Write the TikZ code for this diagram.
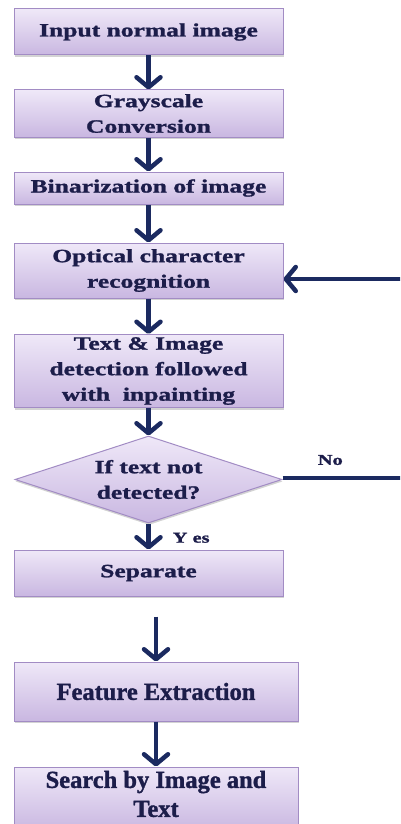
\documentclass[tikz,border=0pt]{standalone}
\usepackage{fontspec}
\setmainfont[FakeStretch=1.36,FakeBold=1.3]{Liberation Serif}
\newfontfamily\plainserif[FakeBold=1.3]{Liberation Serif}
\usetikzlibrary{arrows.meta,shapes.geometric,shadows}

\definecolor{boxtop}{HTML}{EFE8F8}
\definecolor{boxbot}{HTML}{C9B7E1}
\definecolor{boxedge}{HTML}{A28CC4}
\definecolor{ink}{HTML}{1C1D4A}
\definecolor{arrowc}{HTML}{1B2A60}

\tikzset{
  x=1pt, y=-1pt,
  flowbox/.style={rectangle, draw=boxedge, line width=1pt,
    top color=boxtop, bottom color=boxbot, inner sep=0pt,
    minimum width=269pt, text=ink, align=center,
    font=\fontsize{18.8}{25.5}\selectfont\bfseries,
    drop shadow={shadow xshift=0.5pt, shadow yshift=-2pt, opacity=0.35}},
  widebox/.style={flowbox, minimum width=284pt,
    font=\plainserif\fontsize{24.5}{29}\selectfont\bfseries},
  decision/.style={diamond, draw=boxedge, line width=1pt,
    top color=boxtop, bottom color=boxbot, inner sep=0pt,
    minimum width=267pt, minimum height=87pt,
    drop shadow={shadow xshift=0.5pt, shadow yshift=-2pt, opacity=0.35}},
  lbl/.style={text=ink, align=center, inner sep=0pt,
    font=\fontsize{18.8}{25.5}\selectfont\bfseries},
  smalllbl/.style={text=ink, inner sep=0pt,
    font=\fontsize{15}{18}\selectfont\bfseries},
  flow/.style={draw=arrowc, line width=4.5pt,
    -{Straight Barb[length=10pt,width=24pt,round]}},
  plainline/.style={draw=arrowc, line width=4pt}
}

\begin{document}
\begin{tikzpicture}
\useasboundingbox (0,0) rectangle (400,824);
\clip (0,0) rectangle (400,824);

% process steps
\node[flowbox, minimum height=46pt] (input) at (148.5,32) {Input normal image};
\node[flowbox, minimum height=47pt] (gray) at (148.5,113.5) {Grayscale\\Conversion};
\node[flowbox, minimum height=32pt] (bin) at (148.5,188) {Binarization of image};
\node[flowbox, minimum height=55pt] (ocr) at (148.5,270.5) {Optical character\\recognition};
\node[flowbox, minimum height=73pt] (detect) at (148.5,371) {Text \& Image\\detection followed\\with\ \ inpainting};

% decision
\node[decision] (dec) at (148.5,479.5) {};
\node[lbl] (dectext) at (dec.center) {If text not\\detected?};

\node[flowbox, minimum height=46pt] (sep) at (148.5,573) {Separate};
\node[widebox, minimum height=59pt] (feat) at (156,691.5) {Feature Extraction};
\node[widebox, minimum height=64pt] (search) at (156,799) {};
\node[text=ink, align=center, inner sep=0pt,
  font=\plainserif\fontsize{24.5}{29}\selectfont\bfseries]
  (searchtext) at (156,794) {Search by Image and\\Text};

% loop-back ends (run off the right edge)
\coordinate (noEnd) at (402,478);
\coordinate (ocrIn) at (402,279);

% connectors
\draw[flow] (input.south) -- (gray.north);
\draw[flow] (gray.south) -- (bin.north);
\draw[flow] (bin.south) -- (ocr.north);
\draw[flow] (ocr.south) -- (detect.north);
\draw[flow] (detect.south) -- (dec.north);
\draw[flow] (dec.south) -- node[smalllbl, right=22pt, pos=0.55] (yes) {Y es} (sep.north);
\draw[flow] ([yshift=45pt]feat.north) -- (feat.north);
\draw[flow] (feat.south) -- (search.north);
\draw[plainline] (dec.east |- noEnd) -- node[smalllbl, above=11pt, pos=0.4] (no) {No} (noEnd);
\draw[flow] (ocrIn) -- (ocrIn -| ocr.east);
\end{tikzpicture}
\end{document}
